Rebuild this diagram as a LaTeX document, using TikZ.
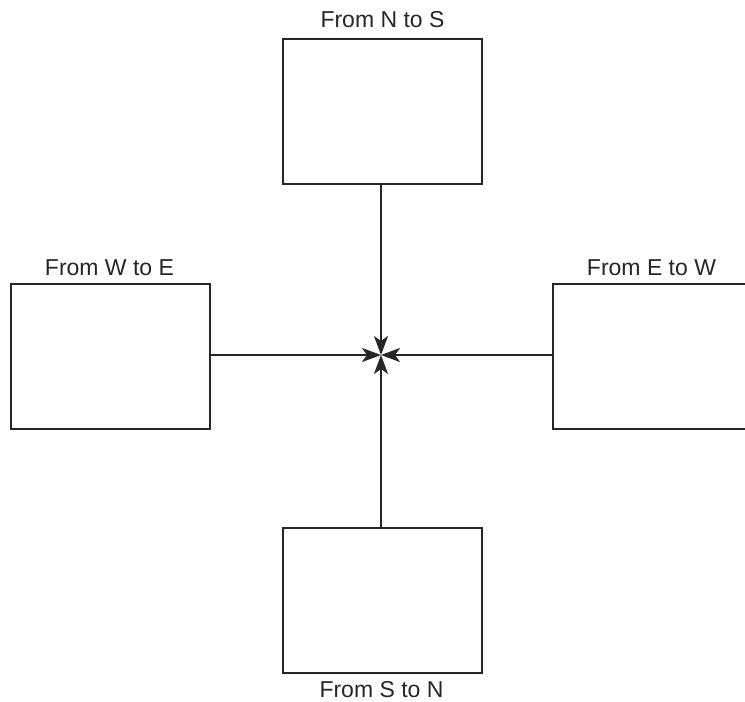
\documentclass[tikz,border=0pt]{standalone}
\usepackage{fontspec}
\setmainfont{Liberation Sans}
\usetikzlibrary{arrows.meta}
\begin{document}
\begin{tikzpicture}[x=1pt,y=-1pt,
  box/.style={draw=black!85,line width=1.9pt,minimum width=199pt,minimum height=145pt,inner sep=0pt},
  lbl/.style={anchor=base,inner sep=0pt,font=\fontsize{23}{27}\selectfont,text=black!85},
  conn/.style={line width=2pt,draw=black!85,-{Stealth[length=19pt,width=14pt,inset=5pt]}}]
\useasboundingbox (0,0) rectangle (745,702);
\node[box] (N) at (382.5,111.5) {};
\node[box] (W) at (110.5,356.5) {};
\node[box] (E) at (652.5,356.5) {};
\node[box] (S) at (382.5,600.5) {};
\coordinate (C) at (381,355);
\node[lbl] (lN) at (382.5,27) {From N to S};
\node[lbl] (lW) at (109.5,275) {From W to E};
\node[lbl] (lE) at (651.5,275) {From E to W};
\node[lbl] (lS) at (381.5,697) {From S to N};
\draw[conn] (N.south -| C) -- (C);
\draw[conn] (S.north -| C) -- (C);
\draw[conn] (W.east |- C) -- (C);
\draw[conn] (E.west |- C) -- (C);
\end{tikzpicture}
\end{document}
